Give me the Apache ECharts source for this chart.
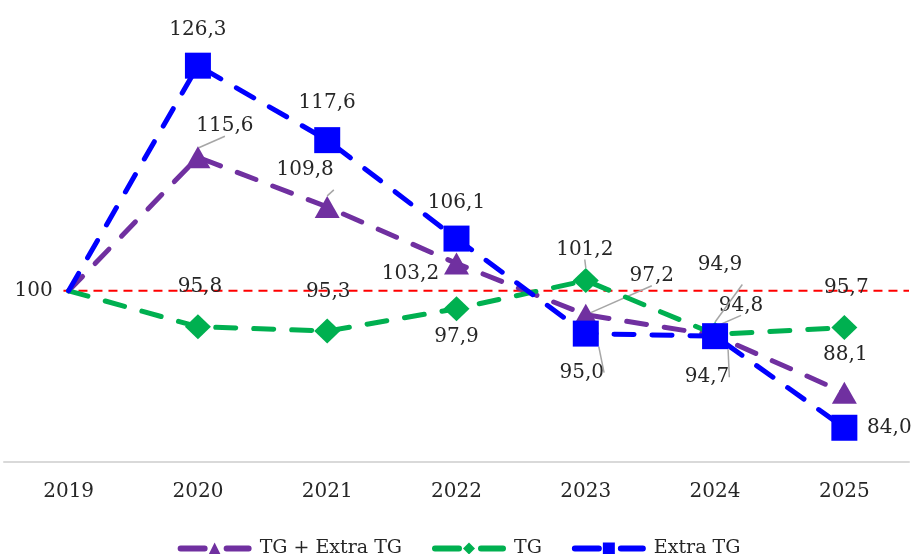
<!DOCTYPE html>
<html><head><meta charset="utf-8">
<script src="https://cdn.jsdelivr.net/npm/echarts@6/dist/echarts.min.js"></script>
<style>html,body{margin:0;padding:0;background:#fff}#c{width:918px;height:554px}</style>
</head><body><div id="c"></div>
<script>
const categories = ['2019','2020','2021','2022','2023','2024','2025'];
const seriesNames = ['TG + Extra TG','TG','Extra TG'];
const tgExtraValues = [100, 115.6, 109.8, 103.2, 97.2, 94.8, 88.1];
const tgValues = [100, 95.8, 95.3, 97.9, 101.2, 94.9, 95.7];
const extraValues = [100, 126.3, 117.6, 106.1, 95.0, 94.7, 84.0];
const referenceValue = 100;

// label placement (offset of label centre from marker, px) and which labels get a leader line
const labelOffsets = [
  [null, [27, -31], [-22, -37], [-46, 10], [66, -39], [26, -30], [1, -38]],
  [[-35, 0], [2, -40], [1, -39], [0, 28], [-1, -31], [5, -70], [2, -40]],
  [null, [0, -36], [0, -37], [0, -36], [-4, 39], [-8, 41], [45, 0]]
];
const leaders = [
  [0, 1, 1, 0, 1, 1, 0],
  [0, 0, 0, 0, 1, 1, 0],
  [0, 0, 0, 0, 1, 1, 0]
];

const colors = ['#7030A0', '#00B050', '#0000FF'];
const symbols = ['triangle', 'diamond', 'rect'];
const symbolSizes = [[25, 22], [26, 25], [26, 26]];
const FONT = '"DejaVu Serif", "Liberation Serif", serif';

function fmt(v, i) {
  if (i === 0) return String(v);
  return v.toFixed(1).replace('.', ',');
}
function buildData(values, si) {
  return values.map((v, i) => {
    const item = {
      value: v,
      label: { show: labelOffsets[si][i] !== null, offset: labelOffsets[si][i] || [0, 0] },
      labelLine: { show: !!leaders[si][i] }
    };
    if (i === 0) item.symbolSize = 0;
    return item;
  });
}

const allValues = [tgExtraValues, tgValues, extraValues];
const series = allValues.map((vals, si) => ({
  name: seriesNames[si],
  type: 'line',
  data: buildData(vals, si),
  symbol: symbols[si],
  symbolSize: symbolSizes[si],
  showAllSymbol: true,
  z: 3 + si,
  itemStyle: { color: colors[si] },
  lineStyle: { color: colors[si], width: 5, type: [20, 18], cap: 'round' },
  label: {
    show: true, position: 'inside',
    fontFamily: FONT, fontSize: 20, color: '#262626',
    formatter: p => fmt(p.value, p.dataIndex)
  },
  labelLine: { show: false, lineStyle: { color: '#a6a6a6', width: 1.5 } },
  emphasis: { disabled: true }
}));

// red dashed reference line at 100, from the first category to the right end of the plot
series.push({
  name: 'ref', type: 'line', xAxisIndex: 1, z: 2,
  data: [[-0.04, referenceValue], [categories.length - 0.5, referenceValue]],
  symbol: 'none', silent: true,
  lineStyle: { color: '#FF0000', width: 2, type: [9, 6] },
  label: { show: false }, emphasis: { disabled: true }
});

const chart = echarts.init(document.getElementById('c'));
chart.setOption({
  animation: false,
  backgroundColor: '#fff',
  grid: { left: 4, right: 9, top: 34, bottom: 92 },
  xAxis: [{
    type: 'category', data: categories, boundaryGap: true,
    axisLine: { lineStyle: { color: '#d9d9d9', width: 2 } },
    axisTick: { show: false },
    axisLabel: { fontFamily: FONT, fontSize: 20, color: '#262626', margin: 20 }
  }, {
    type: 'value', min: -0.5, max: categories.length - 0.5, show: false
  }],
  yAxis: { type: 'value', min: 80, max: 130, show: false, splitLine: { show: false } },
  legend: {
    data: seriesNames, left: 'center', top: 534,
    itemWidth: 68, itemHeight: 15, itemGap: 30,
    lineStyle: { type: [24, 22], width: 6, cap: 'round' },
    textStyle: { fontFamily: FONT, fontSize: 19, color: '#262626', padding: [0, 0, 0, 6] }
  },
  series: series
});
</script></body></html>
